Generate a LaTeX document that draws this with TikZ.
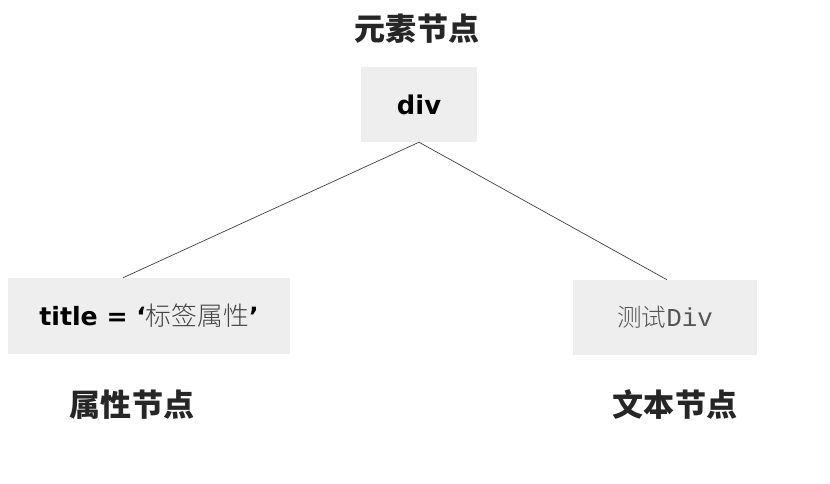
\documentclass[tikz,border=0pt]{standalone}
\usepackage{fontspec}
\setmainfont{DejaVu Sans}
\newfontfamily\cjk{Noto Sans CJK SC}
\newfontfamily\cjklight{Noto Sans CJK SC Light}
\newfontfamily\monofnt{Liberation Mono}
\usepackage{xcolor}
\usepackage{tikz}
\usetikzlibrary{positioning}
\definecolor{boxgray}{HTML}{EEEEEE}
\definecolor{textgray}{HTML}{555555}
\tikzstyle{nodebox} = [rectangle, fill=boxgray, inner sep=0pt, text centered]
\tikzstyle{caption} = [font=\cjk\bfseries\fontsize{26.5}{30}\selectfont, text=black!85]
\tikzstyle{edge} = [draw=black!75, line width=0.6pt]

\begin{document}
\begin{tikzpicture}[x=0.03cm, y=-0.03cm]
        \useasboundingbox (0,0) rectangle (830,484);

        % Nodes
        \node (div) [nodebox, minimum width=3.48cm, minimum height=2.25cm] at (419,104.5)
            {\bfseries\fontsize{22}{26}\selectfont div};
        \node (attr) [nodebox, minimum width=8.46cm, minimum height=2.28cm] at (149,316)
            {\bfseries\fontsize{21.5}{26}\selectfont title = ‘{\cjklight\color{textgray!80!black}\mdseries\fontsize{22}{26}\selectfont 标签属性}’};
        \node (text) [nodebox, minimum width=5.52cm, minimum height=2.25cm] at (665,317.5)
            {\color{textgray}{\cjklight\fontsize{21}{26}\selectfont 测试}{\monofnt\fontsize{22}{26}\selectfont Div}};

        % Captions
        \node (elemcap) [caption] at (417,29) {元素节点};
        \node (attrcap) [caption] at (132,405) {属性节点};
        \node (textcap) [caption] at (675,405) {文本节点};

        % Edges
        \draw [edge] (div.south) -- ([xshift=-0.78cm]attr.north);
        \draw [edge] (div.south) -- ([xshift=0.06cm]text.north);

    \end{tikzpicture}
\end{document}
